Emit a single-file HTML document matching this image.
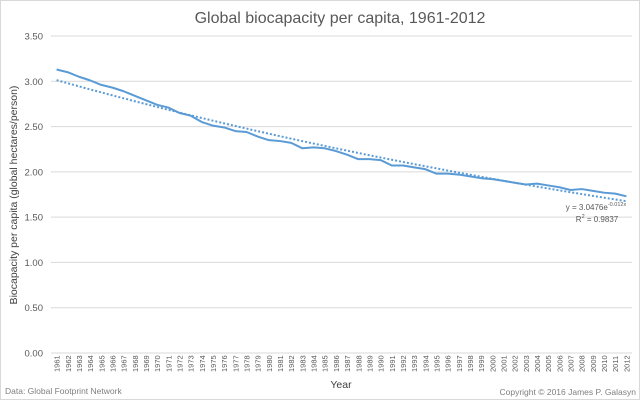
<!DOCTYPE html>
<html><head><meta charset="utf-8"><style>
body{margin:0;background:#fff}
svg{display:block;font-family:"Liberation Sans",sans-serif}
</style></head><body>
<svg id="c" width="640" height="400">
<rect x="0.5" y="0.5" width="639" height="399" fill="#fff" stroke="#d9d9d9"/>
<text x="340" y="23" text-anchor="middle" font-size="16" fill="#595959">Global biocapacity per capita, 1961-2012</text>
<text transform="translate(17,195) rotate(-90)" text-anchor="middle" font-size="10.5" fill="#404040">Biocapacity per capita (global hectares/person)</text>
<text x="341" y="388" text-anchor="middle" font-size="10.5" fill="#404040">Year</text>
<text x="5" y="394" font-size="8.5" fill="#7f7f7f">Data: Global Footprint Network</text>
<text x="636" y="395" text-anchor="end" font-size="8.5" fill="#7f7f7f">Copyright © 2016 James P. Galasyn</text>
<g id="grid"></g><g id="xl"></g><g id="marks"></g>
<text x="596" y="210" text-anchor="middle" font-size="8" fill="#595959">y = 3.0476e<tspan font-size="5.5" dy="-4">-0.012x</tspan></text>
<text x="597" y="222" text-anchor="middle" font-size="8" fill="#595959">R<tspan font-size="5.5" dy="-4">2</tspan><tspan dy="4"> = 0.9837</tspan></text>
</svg>
<script>
const years=[];for(let y=1961;y<=2012;y++)years.push(y);
const values=[3.13,3.10,3.05,3.01,2.96,2.93,2.89,2.84,2.79,2.74,2.71,2.65,2.62,2.55,2.51,2.49,2.45,2.44,2.39,2.35,2.34,2.32,2.26,2.27,2.26,2.23,2.19,2.14,2.14,2.13,2.07,2.07,2.05,2.03,1.98,1.98,1.97,1.95,1.93,1.92,1.90,1.88,1.86,1.87,1.85,1.83,1.80,1.81,1.79,1.77,1.76,1.73];
const yTicks=[0,0.5,1,1.5,2,2.5,3,3.5];
const trendA=3.0476, trendB=-0.0115;
const NS="http://www.w3.org/2000/svg";
const L=51,R=632,T=36,B=353,yMax=3.5;
const bw=(R-L)/years.length;
const X=i=>L+bw*(i+0.5);
const Y=v=>B-(v/yMax)*(B-T);
function mk(t,a,p){const e=document.createElementNS(NS,t);for(const k in a)e.setAttribute(k,a[k]);p.appendChild(e);return e;}
const g=document.getElementById('grid'),xl=document.getElementById('xl'),m=document.getElementById('marks');
yTicks.forEach(v=>{
 const l=mk('line',{x1:L,x2:R,y1:Y(v),y2:Y(v),stroke:'#d9d9d9','stroke-width':1},g);
 
 
 const t=mk('text',{x:43,y:Y(v)+3.5,'text-anchor':'end','font-size':9.5,fill:'#595959'},g);
 t.textContent=v.toFixed(2);
 
 
});
years.forEach((yr,i)=>{
 const t=mk('text',{transform:`translate(${X(i)+3},372) rotate(-90)`,'font-size':7.5,fill:'#595959'},xl);
 t.textContent=yr;
 
 
});
const tr=mk('polyline',{points:years.map((y,i)=>X(i)+','+Y(trendA*Math.exp(trendB*(i+1)))).join(' '),fill:'none',stroke:'#5b9bd5','stroke-width':2,'stroke-dasharray':'2 2'},m);


const ln=mk('polyline',{points:values.map((v,i)=>X(i)+','+Y(v)).join(' '),fill:'none',stroke:'#5b9bd5','stroke-width':2,'stroke-linejoin':'round'},m);


</script>
</body></html>
